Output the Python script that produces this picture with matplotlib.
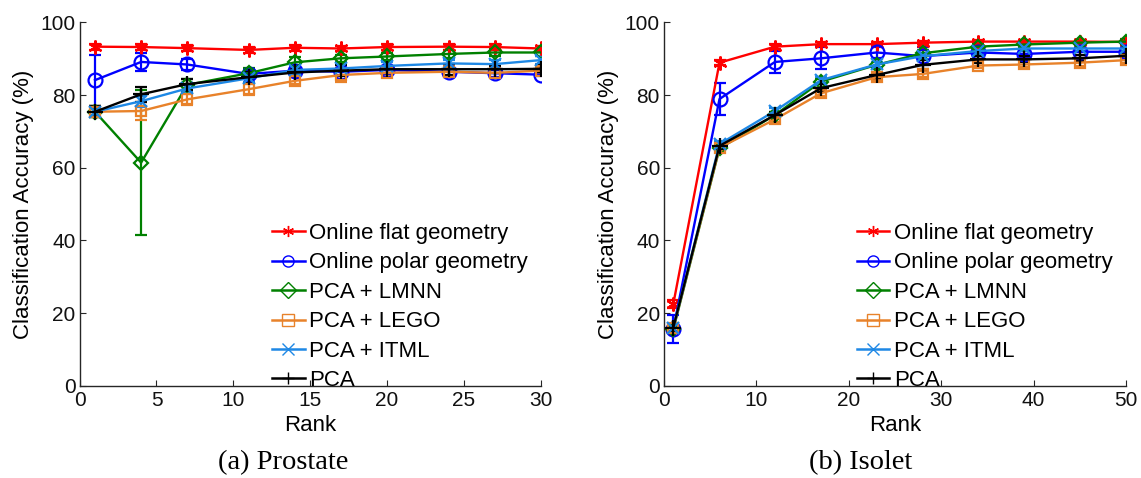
import matplotlib
matplotlib.use("Agg")
import matplotlib.pyplot as plt
import numpy as np

plt.rcParams['font.family'] = ['Liberation Sans', 'DejaVu Sans']

# ---------------- data ----------------
series_names = ["Online flat geometry", "Online polar geometry", "PCA + LMNN",
                "PCA + LEGO", "PCA + ITML", "PCA"]

# (a) Prostate
rank_a = [1, 4, 7, 11, 14, 17, 20, 24, 27, 30]
flat_a = [93.3, 93.2, 92.9, 92.4, 93.0, 92.8, 93.2, 93.3, 93.2, 92.8]
polar_a = [84.1, 89.1, 88.4, 85.8, 86.7, 86.4, 86.9, 86.4, 86.0, 85.6]
lmnn_a = [75.4, 61.4, 82.8, 86.0, 89.0, 90.1, 90.6, 91.3, 91.7, 91.7]
lego_a = [75.4, 75.6, 78.8, 81.6, 83.9, 85.5, 86.1, 86.4, 86.1, 86.7]
itml_a = [75.4, 78.3, 81.8, 84.6, 86.9, 87.3, 88.0, 88.7, 88.5, 89.6]
pca_a = [75.4, 80.2, 83.0, 84.9, 86.2, 86.7, 87.1, 87.1, 87.1, 87.2]

err_flat_a = [0.8, 0.8, 0.8, 0.8, 0.8, 0.8, 0.8, 0.8, 0.8, 0.8]
err_polar_a = [7.0, 2.5, 1.5, 1.0, 1.0, 1.0, 1.0, 1.5, 1.0, 0.5]
err_lmnn_a = [1.5, 20.0, 1.5, 1.5, 1.5, 1.0, 1.0, 1.0, 1.0, 1.0]
err_lego_a = [1.5, 2.5, 1.5, 1.5, 1.0, 2.0, 1.0, 1.5, 1.5, 1.0]
err_itml_a = [1.0, 1.5, 1.0, 1.0, 1.0, 1.0, 1.0, 1.0, 1.0, 1.0]
err_pca_a = [1.5, 2.0, 1.5, 1.5, 1.0, 1.5, 1.0, 1.5, 1.0, 1.0]

# (b) Isolet
rank_b = [1, 6, 12, 17, 23, 28, 34, 39, 45, 50]
flat_b = [22.5, 88.9, 93.3, 94.0, 94.0, 94.4, 94.7, 94.7, 94.7, 94.6]
polar_b = [15.6, 78.9, 89.1, 90.1, 91.7, 90.7, 91.7, 91.3, 91.9, 91.9]
lmnn_b = [15.5, 65.3, 74.5, 83.7, 88.3, 91.5, 93.3, 93.9, 94.4, 94.7]
lego_b = [15.8, 65.5, 73.3, 80.5, 84.9, 85.8, 88.1, 88.4, 88.9, 89.6]
itml_b = [16.0, 66.5, 75.6, 84.1, 88.4, 90.7, 92.1, 92.8, 92.8, 92.8]
pca_b = [16.0, 66.0, 74.5, 81.9, 85.5, 88.3, 89.8, 89.8, 90.1, 90.8]

err_flat_b = [1.2, 0.6, 0.6, 0.6, 0.5, 0.5, 0.5, 0.5, 0.5, 0.5]
err_polar_b = [3.8, 4.5, 3.0, 3.0, 1.5, 2.5, 1.0, 1.0, 1.0, 1.0]
err_lmnn_b = [1.0, 0.8, 0.8, 0.8, 0.8, 0.8, 0.8, 0.8, 0.8, 0.8]
err_lego_b = [1.0, 0.8, 0.8, 0.8, 0.8, 0.8, 0.8, 0.8, 0.8, 0.8]
err_itml_b = [1.0, 0.8, 0.8, 0.8, 0.8, 0.8, 0.8, 0.8, 0.8, 0.8]
err_pca_b = [1.0, 0.8, 0.8, 1.0, 0.8, 1.2, 1.0, 0.8, 0.8, 0.8]

x_ticks_a = [0, 5, 10, 15, 20, 25, 30]
x_ticks_b = [0, 10, 20, 30, 40, 50]
y_ticks = [0, 20, 40, 60, 80, 100]

colors = ["#FF0000", "#0000FF", "#008000", "#E8822A", "#1E88E5", "#000000"]
markers = [(6, 2, 0), "o", "D", "s", "x", "+"]
msizes = [10, 10, 7, 7, 8, 11]

fig = plt.figure(figsize=(11.41, 4.78), dpi=100)
ax_a = fig.add_axes([0.0698, 0.1929, 0.4041, 0.7604])
ax_b = fig.add_axes([0.5820, 0.1929, 0.4049, 0.7604])


def draw(ax, rank, ys, errs, xticks, xmax):
    for name, y, e, c, m, ms in zip(series_names, ys, errs, colors, markers, msizes):
        ax.errorbar(rank, y, yerr=e, color=c, marker=m, markersize=ms,
                    markerfacecolor='none', markeredgecolor=c, markeredgewidth=1.6,
                    linewidth=1.7, elinewidth=1.6, capsize=4, capthick=1.6)
    ax.set_xlim(0, xmax)
    ax.set_ylim(0, 100)
    ax.set_xticks(xticks)
    ax.set_yticks(y_ticks)
    for s in ['top', 'right']:
        ax.spines[s].set_visible(False)
    for s in ['left', 'bottom']:
        ax.spines[s].set_linewidth(1.0)
        ax.spines[s].set_color('#262626')
    ax.tick_params(axis='both', direction='in', length=4, width=0.8,
                   labelsize=15, colors='#262626', labelcolor='#111111')
    ax.tick_params(axis='x', pad=4)
    ax.tick_params(axis='y', pad=3)
    ax.set_xlabel("Rank", fontsize=16)
    ax.set_ylabel("Classification Accuracy (%)", fontsize=16)
    ax.xaxis.set_label_coords(0.5, -0.08)
    ax.yaxis.set_label_coords(-0.098, 0.5)

    handles = []
    for name, c, m in zip(series_names, colors, markers):
        h, = ax.plot([], [], color=c, marker=m, markersize=8,
                     markerfacecolor='none', markeredgewidth=1.0, linewidth=1.8,
                     label=name)
        handles.append(h)
    ax.legend(handles=handles, loc='upper left', bbox_to_anchor=(0.418, 0.448),
              frameon=False, fontsize=16, handlelength=1.45, handletextpad=0.2,
              labelspacing=0.38, borderpad=0, borderaxespad=0, numpoints=1)


draw(ax_a, rank_a, [flat_a, polar_a, lmnn_a, lego_a, itml_a, pca_a],
     [err_flat_a, err_polar_a, err_lmnn_a, err_lego_a, err_itml_a, err_pca_a],
     x_ticks_a, 30)
draw(ax_b, rank_b, [flat_b, polar_b, lmnn_b, lego_b, itml_b, pca_b],
     [err_flat_b, err_polar_b, err_lmnn_b, err_lego_b, err_itml_b, err_pca_b],
     x_ticks_b, 50)

fig.text(283 / 1141, 1 - 463 / 478, "(a) Prostate", ha='center', va='center',
         fontsize=20.5, family=['Liberation Serif', 'DejaVu Serif'])
fig.text(861 / 1141, 1 - 463 / 478, "(b) Isolet", ha='center', va='center',
         fontsize=20.5, family=['Liberation Serif', 'DejaVu Serif'])

fig.savefig("out.png", dpi=100)
